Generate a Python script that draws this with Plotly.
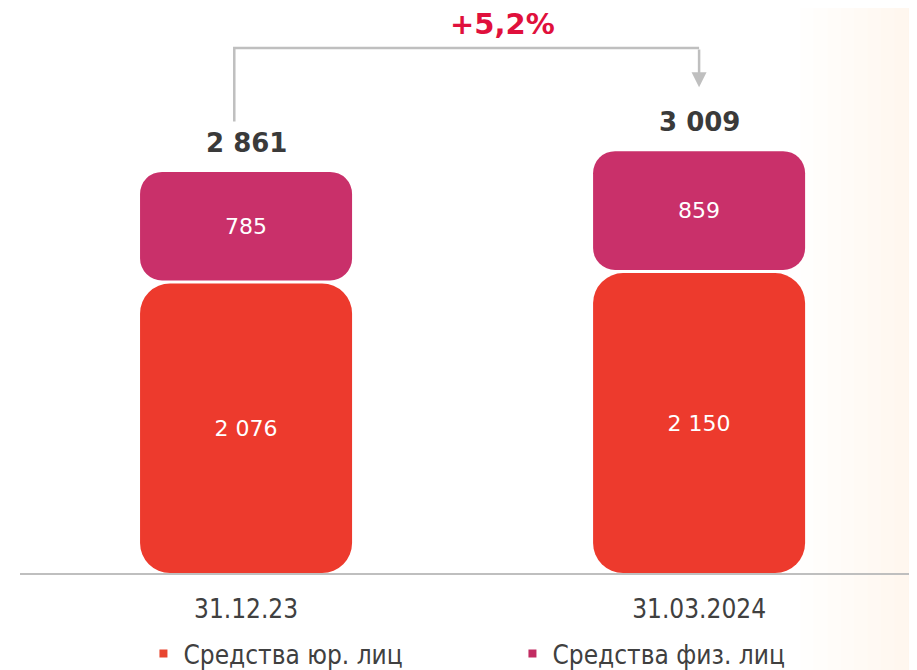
import plotly.graph_objects as go

# data
dates = ['31.12.23', '31.03.2024']
corp_funds = [2076, 2150]       # Средства юр. лиц
retail_funds = [785, 859]       # Средства физ. лиц
totals = [c + r for c, r in zip(corp_funds, retail_funds)]
growth_label = '+5,2%'

CORP_COLOR = '#ED3A2D'
RETAIL_COLOR = '#C9306A'
GAP = 22          # white gap between segments, in data units
NUM_FONT = 'DejaVu Sans'
TXT_FONT = 'DejaVu Sans Condensed, Liberation Sans Narrow, DejaVu Sans'


def fmt(v):
    return f'{v:,}'.replace(',', ' ')


x = [0, 1]
fig = go.Figure()

# faint warm glow on the right edge
for i in range(9):
    fig.add_shape(type='rect', xref='paper', yref='paper', x0=0.87 + i * 0.015, x1=1.05,
                  y0=-0.25, y1=1.05, fillcolor='#EFD6B4', opacity=0.028,
                  line_width=0, layer='below')

fig.add_trace(go.Bar(x=x, y=[c - GAP / 2 for c in corp_funds], base=[0, 0],
                     name='Средства юр. лиц', marker=dict(color=CORP_COLOR, cornerradius=30, line_width=0),
                     width=0.468, text=[fmt(v) for v in corp_funds], textposition='inside',
                     insidetextanchor='middle', hoverinfo='skip', showlegend=False,
                     textfont=dict(family=NUM_FONT, size=22, color='white')))
fig.add_trace(go.Bar(x=x, y=[r - GAP / 2 for r in retail_funds], base=[c + GAP / 2 for c in corp_funds],
                     name='Средства физ. лиц', marker=dict(color=RETAIL_COLOR, cornerradius=22, line_width=0),
                     width=0.468, text=[fmt(v) for v in retail_funds], textposition='inside',
                     insidetextanchor='middle', hoverinfo='skip', showlegend=False,
                     textfont=dict(family=NUM_FONT, size=22, color='white')))

# small square legend markers
for name, col in [('Средства юр. лиц', '#E8452F'), ('Средства физ. лиц', '#C22C62')]:
    fig.add_trace(go.Scatter(x=[None], y=[None], mode='markers', name=name,
                             marker=dict(symbol='square', size=8, color=col)))

# totals above the bars
for xi, t in zip(x, totals):
    fig.add_annotation(x=xi, y=t, text=f'<b>{fmt(t)}</b>', showarrow=False,
                       yanchor='bottom', yshift=12,
                       font=dict(family=NUM_FONT, size=26, color='#3A3A3A'))

# growth bracket
bracket_top = max(totals) + 736
fig.add_trace(go.Scatter(x=[x[0] - 0.026, x[0] - 0.026, x[1]], y=[totals[0] + 360, bracket_top, bracket_top],
                         mode='lines', line=dict(color='#BFBFBF', width=2.5),
                         showlegend=False, hoverinfo='skip'))
fig.add_annotation(x=x[1], y=totals[1] + 455, ax=x[1], ay=bracket_top,
                   axref='x', ayref='y', text='', showarrow=True,
                   arrowhead=2, arrowsize=1.2, arrowwidth=2.5, arrowcolor='#BFBFBF')
fig.add_annotation(x=0.565, y=bracket_top + 170, text=f'<b>{growth_label}</b>',
                   showarrow=False, yanchor='middle', borderpad=0,
                   font=dict(family=NUM_FONT, size=29, color='#E0103C'))

fig.update_layout(
    width=909, height=662,
    margin=dict(l=12, r=0, t=0, b=97, autoexpand=False),
    barmode='overlay',
    plot_bgcolor='rgba(0,0,0,0)', paper_bgcolor='white',
    legend=dict(orientation='h', x=0.549, xanchor='center', y=-0.101, yanchor='top',
                bgcolor='rgba(0,0,0,0)',
                font=dict(family=TXT_FONT, size=26, color='#404040'),
                entrywidth=324, traceorder='normal', itemwidth=30),
)
fig.update_xaxes(tickmode='array', tickvals=x, ticktext=dates, range=[-0.499, 1.481],
                 showgrid=False, zeroline=False, showline=True, linecolor='#BFBFBF',
                 linewidth=2, ticks='', ticklabelstandoff=12,
                 tickfont=dict(family=TXT_FONT, size=26, color='#404040'))
fig.update_yaxes(range=[0, 4030], visible=False, showgrid=False, zeroline=False)

fig.write_html('out.html')
